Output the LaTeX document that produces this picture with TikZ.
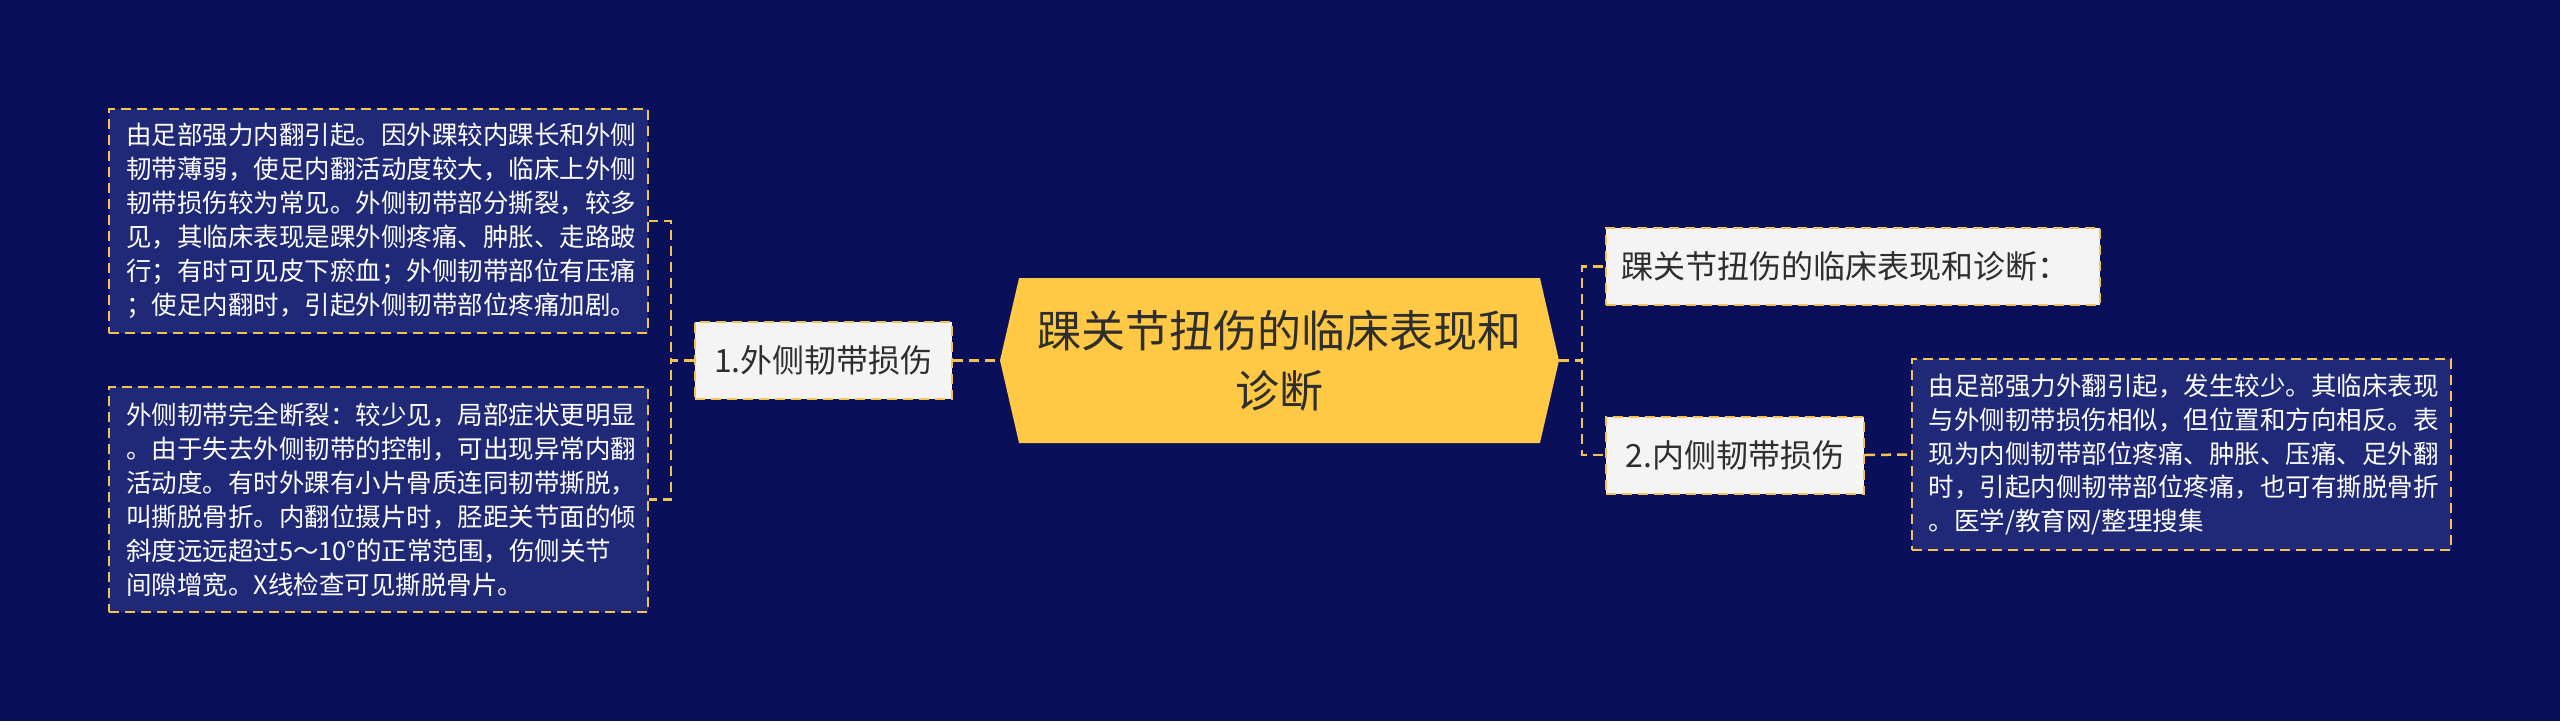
\documentclass[tikz,border=0pt]{standalone}
\usepackage{fontspec}
\setmainfont{Noto Sans CJK SC}
\usetikzlibrary{shapes.symbols}
\definecolor{bgnavy}{HTML}{0A0F5A}
\definecolor{boxnavy}{HTML}{1F2977}
\definecolor{lineyel}{HTML}{F2C350}
\definecolor{rootyel}{HTML}{FFC845}
\definecolor{nodegray}{HTML}{F4F4F4}
\definecolor{txtdark}{HTML}{2E2E2E}

\begin{document}
\begin{tikzpicture}[x=1pt, y=-1pt,
  link/.style={lineyel, line width=2.5pt, dash pattern=on 10pt off 6pt},
  detail/.style={draw=lineyel, line width=2pt, dash pattern=on 10pt off 6pt,
    fill=boxnavy, text=white, align=left, text width=505pt, inner xsep=17pt,
    inner ysep=0pt, font=\fontsize{25.5}{34}\selectfont},
  topic/.style={draw=lineyel, line width=2pt, dash pattern=on 10pt off 6pt,
    fill=nodegray, text=txtdark, inner sep=0pt, minimum height=77pt,
    font=\fontsize{32}{40}\selectfont},
  root/.style={signal, signal to=west and east, signal pointer angle=154,
    fill=rootyel, text=txtdark, align=center, inner sep=0pt,
    minimum width=559pt, minimum height=165pt, font=\fontsize{44}{60}\selectfont}]
\useasboundingbox (0,0) rectangle (2560,721);
\fill[bgnavy] (0,0) rectangle (2560,721);

% centre
\node[root] (root) at (1279.5,360.5) {踝关节扭伤的临床表现和\\诊断};

% left branch
\node[topic, minimum width=257pt] (n1) at (823.5,360.5) {1.外侧韧带损伤};
\node[detail, minimum height=224pt] (d1) at (378.5,221) {由足部强力内翻引起。因外踝较内踝长和外侧\\韧带薄弱，使足内翻活动度较大，临床上外侧\\韧带损伤较为常见。外侧韧带部分撕裂，较多\\见，其临床表现是踝外侧疼痛、肿胀、走路跛\\行；有时可见皮下瘀血；外侧韧带部位有压痛\\；使足内翻时，引起外侧韧带部位疼痛加剧。};
\node[detail, minimum height=225pt] (d2) at (378.5,499.5) {外侧韧带完全断裂：较少见，局部症状更明显\\。由于失去外侧韧带的控制，可出现异常内翻\\活动度。有时外踝有小片骨质连同韧带撕脱，\\叫撕脱骨折。内翻位摄片时，胫距关节面的倾\\斜度远远超过5～10°的正常范围，伤侧关节\\间隙增宽。X线检查可见撕脱骨片。};

% right branch
\node[topic, text width=464pt, inner xsep=15pt, align=left] (t1) at (1853,266.5) {踝关节扭伤的临床表现和诊断：};
\node[topic, minimum width=258pt] (n2) at (1735,455) {2.内侧韧带损伤};
\node[detail, minimum height=191pt] (d3) at (2181,454.5) {由足部强力外翻引起，发生较少。其临床表现\\与外侧韧带损伤相似，但位置和方向相反。表\\现为内侧韧带部位疼痛、肿胀、压痛、足外翻\\时，引起内侧韧带部位疼痛，也可有撕脱骨折\\。医学/教育网/整理搜集};

\draw[link] (n1.east) -- (root.west);
\foreach \d in {d1,d2}
 \draw[link] (n1.west) -- ++(-23,0) |- (\d.east);
\foreach \t in {t1,n2}
 \draw[link] (root.east) -- ++(23,0) |- (\t.west);
\draw[link] (n2.east) -- (d3.west);
\end{tikzpicture}
\end{document}
